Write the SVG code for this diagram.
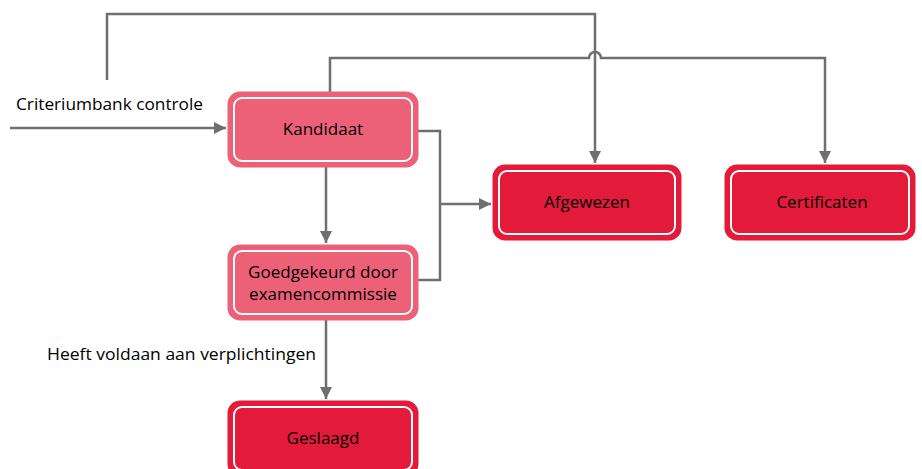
<svg xmlns="http://www.w3.org/2000/svg" width="922" height="469" viewBox="0 0 922 469">
<defs>
<style>
.edge{fill:none;stroke:#6f6f6f;stroke-width:2.5}
.pink{fill:#ec6177;stroke:#ec6177;stroke-width:3}
.red{fill:#e31a3a;stroke:#e31a3a;stroke-width:3}
.inner{fill:none;stroke:#fff;stroke-width:2}
.lbl{font-family:"Open Sans","Liberation Sans",sans-serif;font-size:17px;fill:#000;text-anchor:middle}
.elbl{font-family:"Open Sans","Liberation Sans",sans-serif;font-size:17px;fill:#000}
</style>
<marker id="arr" viewBox="0 0 10 10" refX="10" refY="5" markerWidth="5" markerHeight="5" orient="auto" markerUnits="strokeWidth">
<path d="M0,0 L10,5 L0,10 Z" fill="#6f6f6f"/>
</marker>
</defs>
<g id="connectors">
<path class="edge" d="M10,128 H226" marker-end="url(#arr)"/>
<path class="edge" d="M107,80 V14 H595 V163" marker-end="url(#arr)"/>
<path class="edge" d="M330,92 V58 H589 A6,6 0 0 1 601,58 H825 V163" marker-end="url(#arr)"/>
<path class="edge" d="M418,131 H440 V280 H417"/>
<path class="edge" d="M440,204 H491" marker-end="url(#arr)"/>
<path class="edge" d="M326,166 V243" marker-end="url(#arr)"/>
<path class="edge" d="M326,320 V399" marker-end="url(#arr)"/>
<text class="elbl" x="16" y="110" textLength="187" lengthAdjust="spacingAndGlyphs">Criteriumbank controle</text>
<text class="elbl" x="47" y="360" textLength="269" lengthAdjust="spacingAndGlyphs">Heeft voldaan aan verplichtingen</text>
</g>
<g id="kandidaat">
<rect class="pink" x="229" y="93" width="188" height="73" rx="11"/>
<rect class="inner" x="234" y="98" width="178" height="63" rx="8"/>
<text class="lbl" x="323" y="135">Kandidaat</text>
</g>
<g id="goedgekeurd">
<rect class="pink" x="229" y="246" width="188" height="73" rx="11"/>
<rect class="inner" x="234" y="251" width="178" height="63" rx="8"/>
<text class="lbl" x="323" y="278">Goedgekeurd door</text>
<text class="lbl" x="323" y="300">examencommissie</text>
</g>
<g id="afgewezen">
<rect class="red" x="494" y="166" width="186" height="73" rx="11"/>
<rect class="inner" x="499" y="171" width="176" height="63" rx="8"/>
<text class="lbl" x="587" y="208">Afgewezen</text>
</g>
<g id="certificaten">
<rect class="red" x="726" y="166" width="188" height="73" rx="11"/>
<rect class="inner" x="731" y="171" width="178" height="63" rx="8"/>
<text class="lbl" x="822" y="208">Certificaten</text>
</g>
<g id="geslaagd">
<rect class="red" x="229" y="402" width="188" height="73" rx="11"/>
<rect class="inner" x="234" y="407" width="178" height="63" rx="8"/>
<text class="lbl" x="323" y="444">Geslaagd</text>
</g>
</svg>
